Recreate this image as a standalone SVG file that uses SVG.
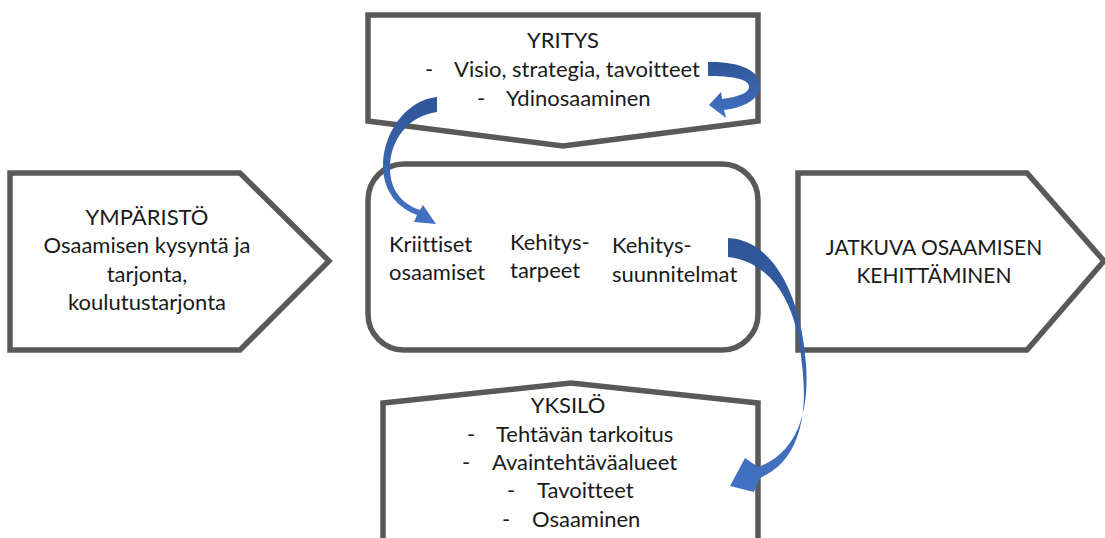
<svg xmlns="http://www.w3.org/2000/svg" width="1105" height="538" viewBox="0 0 1105 538">
<defs>
<linearGradient id="blueGrad" x1="0" y1="0" x2="0" y2="1">
<stop offset="0" stop-color="#2f5597"/>
<stop offset="1" stop-color="#4472c4"/>
</linearGradient>
<style>
.box{fill:#ffffff;stroke:#595959;stroke-width:5.5;stroke-linejoin:miter}
.t{font-family:Lato,"Liberation Sans",sans-serif;font-size:22px;fill:#1a1a1a;font-variant-ligatures:none;font-feature-settings:"liga" 0}
.c{text-anchor:middle}
.caps{font-size:21px}
.arr{fill:url(#blueGrad)}
</style>
</defs>
<rect width="1105" height="538" fill="#ffffff"/>

<g id="yritys">
<polygon class="box" points="368,15 758,15 758,121 563,146 368,121"/>
<text class="t c" x="563" y="48">YRITYS</text>
<text class="t" x="425" y="77">-</text>
<text class="t" x="454" y="77">Visio, strategia, tavoitteet</text>
<text class="t" x="477" y="106">-</text>
<text class="t" x="506" y="106">Ydinosaaminen</text>
</g>

<g id="ymparisto">
<polygon class="box" points="10,173 240,173 329,261 240,350 10,350"/>
<text class="t c" x="147" y="225">YMPÄRISTÖ</text>
<text class="t c" x="147" y="253">Osaamisen kysyntä ja</text>
<text class="t c" x="147" y="282">tarjonta,</text>
<text class="t c" x="147" y="310">koulutustarjonta</text>
</g>

<g id="keskus">
<rect class="box" x="368" y="164" width="390" height="186" rx="36" ry="36"/>
<text class="t" x="389" y="252">Kriittiset</text>
<text class="t" x="389" y="280">osaamiset</text>
<text class="t" x="510" y="250">Kehitys-</text>
<text class="t" x="510" y="278">tarpeet</text>
<text class="t" x="612" y="253">Kehitys-</text>
<text class="t" x="612" y="282">suunnitelmat</text>
</g>

<g id="jatkuva">
<polygon class="box" points="798,173 1027,173 1104,261 1027,350 798,350"/>
<text class="t c caps" x="934" y="255">JATKUVA OSAAMISEN</text>
<text class="t c caps" x="934" y="283">KEHITTÄMINEN</text>
</g>

<g id="yksilo">
<polygon class="box" points="383,545 383,403 571,383 758,403 758,545"/>
<text class="t c" x="568" y="413">YKSILÖ</text>
<text class="t" x="467" y="442">-</text>
<text class="t" x="496" y="442">Tehtävän tarkoitus</text>
<text class="t" x="462" y="470">-</text>
<text class="t" x="492" y="470">Avaintehtäväalueet</text>
<text class="t" x="507" y="498">-</text>
<text class="t" x="537" y="498">Tavoitteet</text>
<text class="t" x="502" y="527">-</text>
<text class="t" x="532" y="527">Osaaminen</text>
</g>

<g id="connectors">
<path class="arr" d="M708,62 C738,61 760,70 760,86 C760,100 742,108 724,110 L726,118 L709,105 L721,92 L722,99 C740,97 750,92 749,86 C748,79 732,76 708,76 Z"/>
<path class="arr" d="M437,97 C405,100 382,135 383,168 C384,192 398,208 417,215 L414,222 L436,224 L423,205 L420,210 C402,204 390,190 390,168 C390,140 408,116 437,112 Z"/>
<path class="arr" d="M728,238 C775,240 802,300 806,365 C810,420 792,455 758,467 L745,458 L730,486 L754,492 L760,478 C797,462 809,420 802,365 C797,300 770,262 728,257 Z"/>
</g>
</svg>
